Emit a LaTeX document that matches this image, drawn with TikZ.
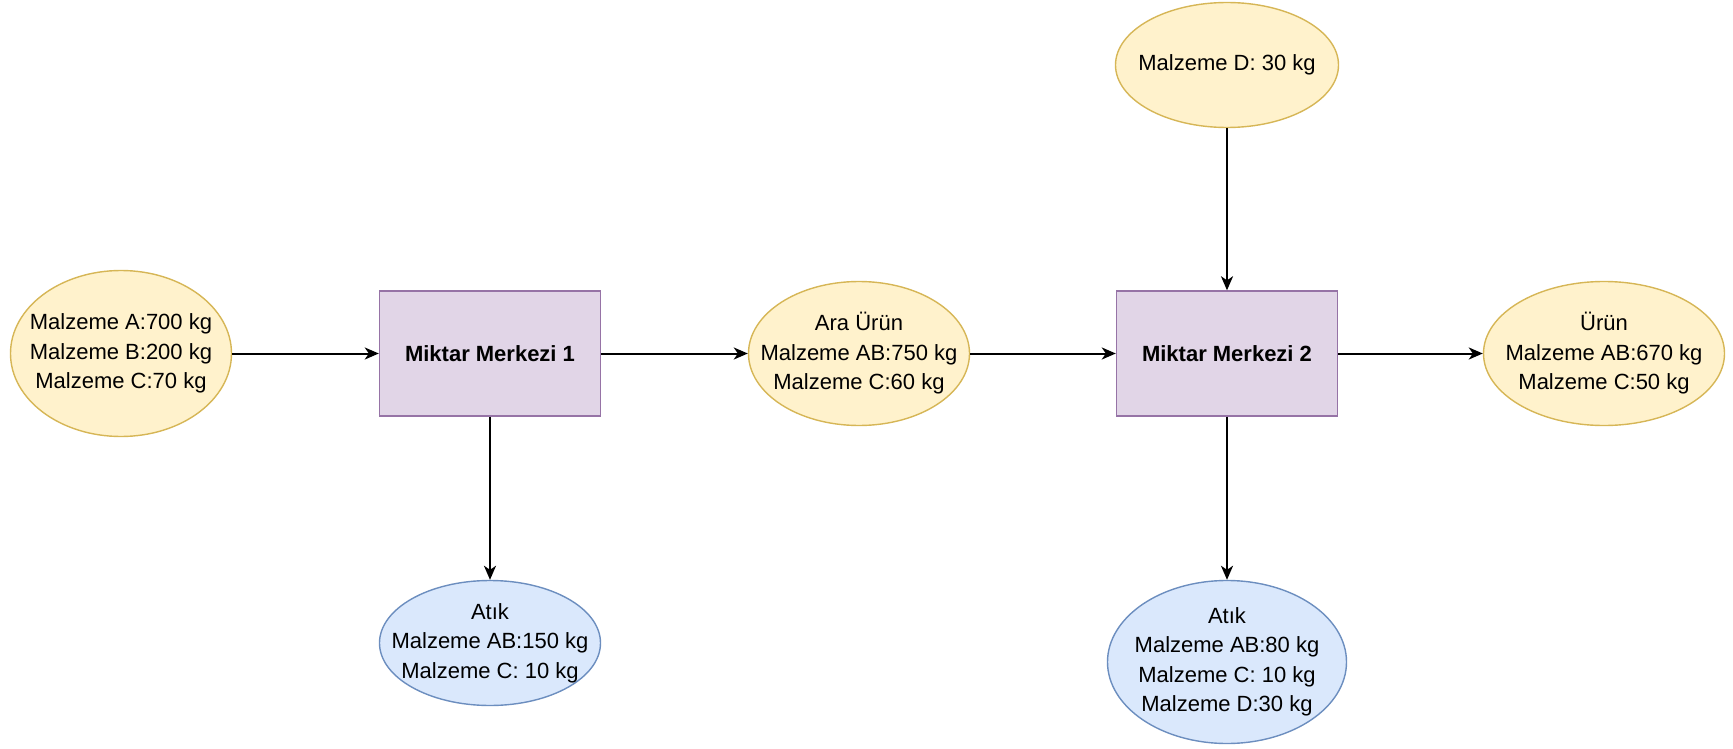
\documentclass[tikz,border=0pt]{standalone}
\usepackage{fontspec}
\setmainfont{Liberation Sans}
\usetikzlibrary{shapes.geometric,arrows.meta}
\definecolor{yfill}{HTML}{FFF2CC}\definecolor{ydraw}{HTML}{D6B656}
\definecolor{pfill}{HTML}{E1D5E7}\definecolor{pdraw}{HTML}{9673A6}
\definecolor{bfill}{HTML}{DAE8FC}\definecolor{bdraw}{HTML}{6C8EBF}
\begin{document}
\begin{tikzpicture}[x=1pt,y=-1pt,
  every node/.style={font=\fontsize{22}{29.5}\selectfont,align=center,line width=1.4pt},
  oval/.style={ellipse,inner xsep=-70pt,inner ysep=-50pt},
  matin/.style={oval,fill=yfill,draw=ydraw},
  waste/.style={oval,fill=bfill,draw=bdraw},
  center/.style={rectangle,inner sep=0pt,fill=pfill,draw=pdraw,minimum width=221pt,minimum height=125pt,font=\fontsize{22}{29.5}\selectfont\bfseries},
  flow/.style={line width=2pt,-{Stealth[length=14pt,width=12pt,inset=4pt]}}]
\useasboundingbox (0,0) rectangle (1733,749);
% main row
\node[matin,minimum width=221pt,minimum height=166pt] (a) at (121,353.5) {Malzeme A:700 kg\\Malzeme B:200 kg\\Malzeme C:70 kg};
\node[center] (m1) at (490,353.5) {Miktar Merkezi 1};
\node[matin,minimum width=221pt,minimum height=144pt] (ara) at (859,353.5) {Ara Ürün\\Malzeme AB:750 kg\\Malzeme C:60 kg};
\node[center] (m2) at (1227,353.5) {Miktar Merkezi 2};
\node[matin,minimum width=241pt,minimum height=144pt] (urun) at (1604,353.5) {Ürün\\Malzeme AB:670 kg\\Malzeme C:50 kg};
% extra input and waste outputs
\node[matin,minimum width=223pt,minimum height=125pt] (d) at (1227,65) {Malzeme D: 30 kg};
\node[waste,minimum width=221pt,minimum height=125pt] (w1) at (490,643) {Atık\\Malzeme AB:150 kg\\Malzeme C: 10 kg};
\node[waste,minimum width=239pt,minimum height=163pt] (w2) at (1227,662) {Atık\\Malzeme AB:80 kg\\Malzeme C: 10 kg\\Malzeme D:30 kg};
\draw[flow] (a) -- (m1);
\draw[flow] (m1) -- (ara);
\draw[flow] (ara) -- (m2);
\draw[flow] (m2) -- (urun);
\draw[flow] (d) -- (m2);
\draw[flow] (m1) -- (w1);
\draw[flow] (m2) -- (w2);
\end{tikzpicture}
\end{document}
